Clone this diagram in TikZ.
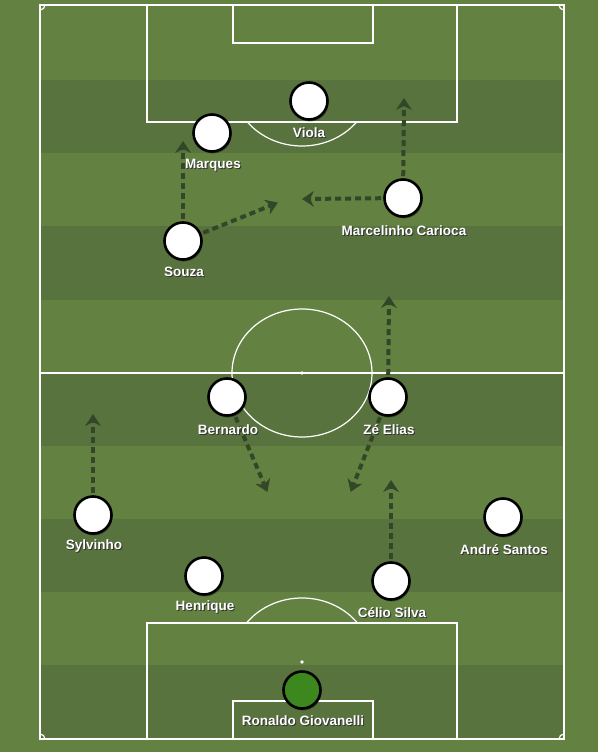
\documentclass[tikz,border=0pt]{standalone}
\usepackage{fontspec}
\setmainfont{Liberation Sans}
\usetikzlibrary{arrows.meta,shadows}

\definecolor{grassA}{RGB}{99,130,66}
\definecolor{grassB}{RGB}{88,115,61}
\definecolor{runcol}{RGB}{52,70,40}
\definecolor{keeper}{RGB}{60,136,30}

% white name with a dark shadow behind it
\newcommand\plname[1]{\makebox[0pt][l]{\hspace{1pt}\raisebox{-1pt}{\color{black!80}#1}}#1}

\tikzset{
  player/.style={circle, draw=black, line width=2.6pt, fill=white, minimum size=37pt, inner sep=0pt,
    drop shadow={shadow xshift=1pt, shadow yshift=-2pt, opacity=0.35, fill=black}},
  plabel/.style={font=\fontsize{13.5}{15}\selectfont\bfseries, text=white, inner sep=0pt},
  run/.style={runcol, line width=4pt, dash pattern=on 6pt off 4pt,
    -{Stealth[length=12pt, width=16pt, inset=4pt, line width=0pt, sep=-1pt]}, shorten <=2pt},
  pline/.style={white, line width=1.2pt}
}

\begin{document}
\begin{tikzpicture}[x=1pt, y=-1pt]
    \useasboundingbox (0,0) rectangle (598,752);
    \fill [grassA] (0,0) rectangle (598,752);

    % stripes
    \foreach \i in {0,...,4}
        \fill [grassB] (40,{80+146.3*\i}) rectangle (564,{153.2+146.3*\i});

    % pitch markings
    \draw [pline] (40,5) rectangle (564,739);
    \draw [pline] (40,373) -- (564,373);
    \draw [pline] (302,373) ellipse [x radius=70, y radius=64];
    \fill [white] (302,373) circle [radius=1.8];

    \draw [pline] (147,5) rectangle (457,122);
    \draw [pline] (233,5) rectangle (373,43);
    \draw [pline] (147,623) rectangle (457,739);
    \draw [pline] (233,701) rectangle (373,739);
    \fill [white] (302,662) circle [radius=1.8];

    \begin{scope}
        \clip (147,122) rectangle (457,170);
        \draw [pline] (302,82) ellipse [x radius=70, y radius=64];
    \end{scope}
    \begin{scope}
        \clip (147,570) rectangle (457,623);
        \draw [pline] (302,662) ellipse [x radius=70, y radius=64];
    \end{scope}
    \begin{scope}
        \clip (40,5) rectangle (564,739);
        \foreach \cx/\cy in {40/5, 564/5, 40/739, 564/739}
            \draw [pline] (\cx,\cy) circle [radius=5];
    \end{scope}

    % players
    \node [player] (viola) at (309,101) {};
    \node [player] (marques) at (212,133) {};
    \node [player] (souza) at (183,241) {};
    \node [player] (carioca) at (403,198) {};
    \node [player] (bernardo) at (227,397) {};
    \node [player] (zeelias) at (388,397) {};
    \node [player] (sylvinho) at (93,515) {};
    \node [player] (andre) at (503,517) {};
    \node [player] (henrique) at (204,576) {};
    \node [player] (celio) at (391,581) {};
    \node [player, fill=keeper] (ronaldo) at (302,690) {};

    % runs
    \coordinate (souzaUp) at (183,142);
    \coordinate (souzaIn) at (277,203);
    \coordinate (cariocaIn) at (303,199);
    \coordinate (cariocaUp) at (404,99);
    \coordinate (zeUp) at (389,297);
    \coordinate (bernardoDown) at (267,491);
    \coordinate (zeDown) at (351,491);
    \coordinate (celioUp) at (391,481);
    \coordinate (sylvinhoUp) at (93,415);

    \draw [run] (souza) -- (souzaUp);
    \draw [run] (souza) -- (souzaIn);
    \draw [run] (carioca) -- (cariocaIn);
    \draw [run] (carioca) -- (cariocaUp);
    \draw [run] (zeelias) -- (zeUp);
    \draw [run] (bernardo) -- (bernardoDown);
    \draw [run] (zeelias) -- (zeDown);
    \draw [run] (celio) -- (celioUp);
    \draw [run] (sylvinho) -- (sylvinhoUp);

    % names
    \node [plabel] (violaL) at (309,133) {\plname{Viola}};
    \node [plabel] (marquesL) at (213,166) {\plname{Marques}};
    \node [plabel] (souzaL) at (184,272) {\plname{Souza}};
    \node [plabel] (cariocaL) at (404,231) {\plname{Marcelinho Carioca}};
    \node [plabel] (bernardoL) at (228,430) {\plname{Bernardo}};
    \node [plabel] (zeeliasL) at (389,430) {\plname{Zé Elias}};
    \node [plabel] (sylvinhoL) at (94,547) {\plname{Sylvinho}};
    \node [plabel] (andreL) at (504,550) {\plname{André Santos}};
    \node [plabel] (henriqueL) at (205,608) {\plname{Henrique}};
    \node [plabel] (celioL) at (392,613) {\plname{Célio Silva}};
    \node [plabel] (ronaldoL) at (303,721) {\plname{Ronaldo Giovanelli}};
\end{tikzpicture}
\end{document}
